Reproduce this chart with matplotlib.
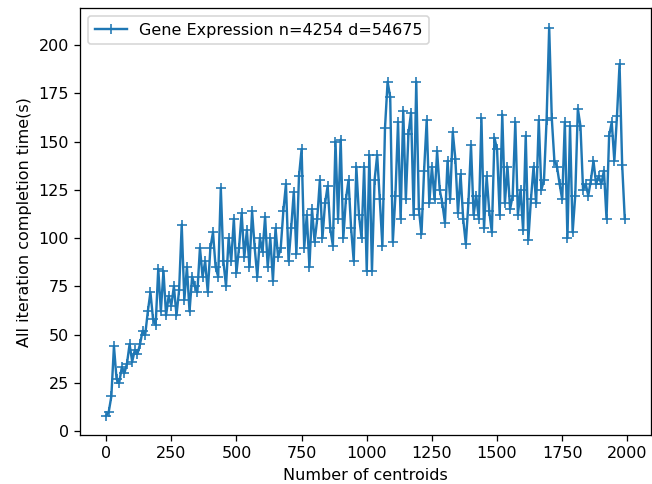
import matplotlib
matplotlib.use("Agg")
import matplotlib.pyplot as plt
import numpy as np

centroids = list(range(0, 2000, 10))
times = [
    8, 10, 18, 44, 27, 25, 33, 30, 35, 45,
    36, 42, 40, 45, 52, 50, 62, 72, 58, 55,
    84, 62, 83, 60, 70, 65, 75, 60, 73, 107,
    68, 85, 62, 80, 75, 72, 95, 80, 88, 72,
    95, 103, 85, 80, 126, 88, 75, 100, 88, 110,
    82, 95, 113, 90, 104, 85, 114, 95, 80, 100,
    93, 111, 85, 100, 78, 105, 90, 95, 114, 128,
    88, 105, 124, 92, 132, 146, 95, 112, 85, 115,
    98, 110, 130, 100, 118, 127, 105, 96, 150, 110,
    151, 100, 120, 130, 105, 88, 137, 112, 100, 137,
    83, 143, 83, 130, 143, 120, 96, 157, 181, 173,
    98, 122, 160, 110, 166, 120, 154, 165, 112, 181,
    115, 102, 135, 161, 118, 137, 120, 145, 125, 118,
    108, 140, 120, 155, 141, 113, 133, 110, 97, 118,
    148, 112, 122, 110, 162, 105, 132, 114, 103, 152,
    146, 112, 164, 118, 137, 115, 122, 160, 112, 125,
    104, 153, 99, 120, 137, 118, 161, 125, 130, 161,
    209, 162, 140, 137, 128, 120, 160, 100, 158, 103,
    122, 167, 158, 125, 128, 122, 130, 140, 128, 132,
    128, 135, 110, 153, 160, 140, 163, 190, 138, 110,
]
label = "Gene Expression n=4254 d=54675"

DPI = 115.4
fig = plt.figure(figsize=(652 / DPI, 484 / DPI), dpi=DPI)
ax = fig.add_axes([0.123, 0.101, 0.875, 0.882])
ax.plot(centroids, times, marker='+', color='#1f77b4', label=label)
ax.set_xlabel("Number of centroids")
ax.set_ylabel("All iteration completion time(s)")
ax.legend(loc='upper left')
fig.savefig("out.png", dpi=DPI)
